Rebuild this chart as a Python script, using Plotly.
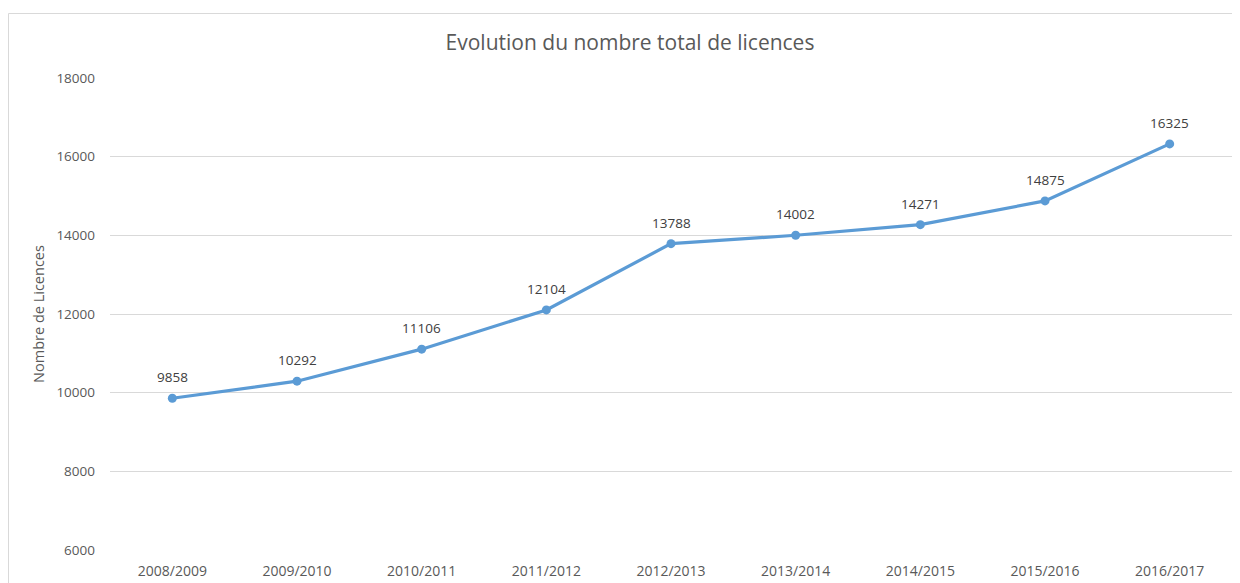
import plotly.graph_objects as go

seasons = ["2008/2009", "2009/2010", "2010/2011", "2011/2012", "2012/2013",
           "2013/2014", "2014/2015", "2015/2016", "2016/2017"]
licences = [9858, 10292, 11106, 12104, 13788, 14002, 14271, 14875, 16325]

# the page body adds an 8px offset; figure coordinates are screen - 8
OFF = 8
W, H = 1240 - OFF, 583 - OFF
L, R, T, B = 110 - OFF, 8, 78 - OFF, 33
pw, ph = W - L - R, H - T - B

def px_x(x):
    return (x - OFF - L) / pw

def px_y(y):
    return (H - B - (y - OFF)) / ph

FONT = "Open Sans, Liberation Sans"

fig = go.Figure()
fig.add_trace(go.Scatter(
    x=seasons, y=licences, mode="lines+markers",
    line=dict(color="#5B9BD5", width=3.2),
    marker=dict(color="#5B9BD5", size=9),
    cliponaxis=False, hoverinfo="x+y", showlegend=False,
))

annotations = [dict(x=s, y=v, text=str(v), showarrow=False, xref="x", yref="y",
                    yshift=21, font=dict(family=FONT, size=13.5, color="#404040"))
               for s, v in zip(seasons, licences)]

fig.update_layout(
    width=W, height=H,
    margin=dict(l=L, r=R, t=T, b=B),
    paper_bgcolor="white", plot_bgcolor="white",
    title=dict(text="Evolution du nombre total de licences", x=(630 - OFF) / W,
               xref="container", xanchor="center", y=1 - (43 - OFF) / H,
               yanchor="middle",
               font=dict(family=FONT, size=21, color="#595959")),
    font=dict(family=FONT, size=13, color="#595959"),
    xaxis=dict(type="category", range=[-0.5, 8.5], showgrid=False, zeroline=False,
               showline=False, ticks="", ticklabelstandoff=11, automargin=False,
               tickfont=dict(size=14, color="#595959")),
    yaxis=dict(range=[6000, 18000], dtick=2000, tickformat="d", showgrid=True,
               gridcolor="#D9D9D9", gridwidth=1, zeroline=False, showline=False,
               ticks="", ticklabelstandoff=14, automargin=False,
               title=dict(text="Nombre de Licences", standoff=8,
                          font=dict(size=14.5, color="#595959")),
               tickfont=dict(size=13.5, color="#595959")),
    annotations=annotations,
    shapes=[dict(type="rect", xref="paper", yref="paper",
                 x0=px_x(8.5), x1=px_x(1260), y0=px_y(13.5), y1=px_y(600),
                 line=dict(color="#D9D9D9", width=1), fillcolor="rgba(0,0,0,0)",
                 layer="below")],
)

fig.write_html("out.html")
